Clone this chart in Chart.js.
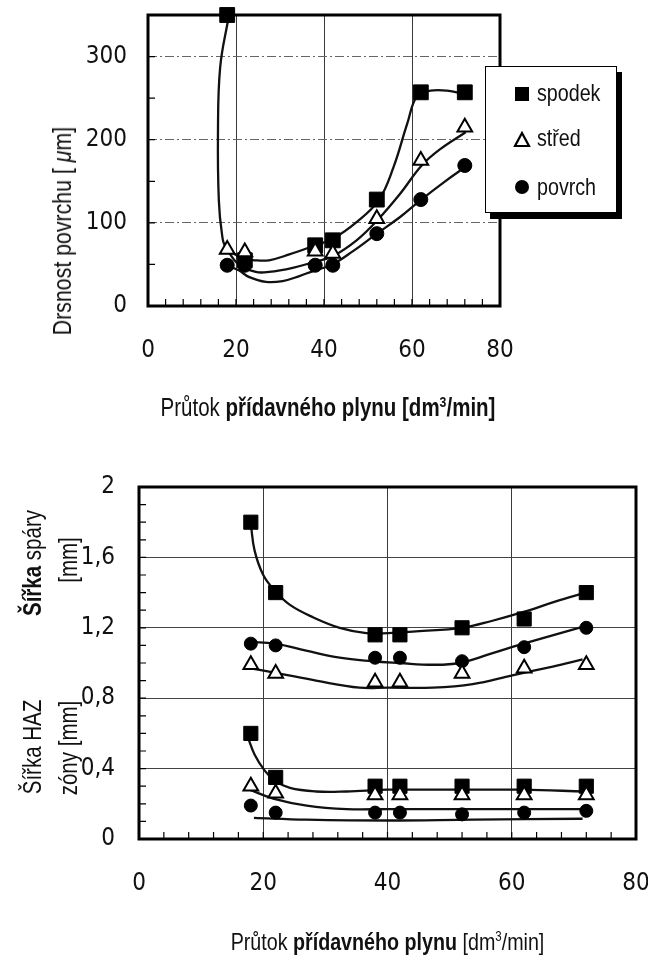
<!DOCTYPE html>
<html>
<head>
<meta charset="utf-8">
<script src="https://cdn.jsdelivr.net/npm/chart.js@4"></script>
<style>
  body { margin: 0; background: #fff; }
  #wrap { position: relative; width: 648px; height: 956px; overflow: hidden;
          font-family: "Liberation Sans", Arial, sans-serif; color: #111; }
  canvas { position: absolute; left: 0; }
  .lbl { position: absolute; white-space: nowrap; text-align: center; transform: scaleX(0.82); }
  .rot { transform: rotate(-90deg) scaleX(0.82); }
  b { font-weight: bold; }
  #legend { position: absolute; left: 485px; top: 66px; width: 130px; height: 145px;
            border: 1px solid #000; background: #fff; box-shadow: 5px 6px 0 #000; }
  #legend div { position: absolute; left: 51px; font-size: 24px; line-height: 24px;
                transform: scaleX(0.82); transform-origin: 0 50%; }
  #legend .mk { position: absolute; }
</style>
</head>
<body>
<div id="wrap">
  <canvas id="topChart" width="648" height="440" style="top:0"></canvas>
  <canvas id="botChart" width="648" height="516" style="top:440px"></canvas>

  <!-- popisky grafu nahore -->
  <div class="lbl rot" style="left:-78px; top:216px; width:280px; height:30px; line-height:30px; font-size:26px;">Drsnost povrchu [ <i>μ</i>m]</div>
  <div class="lbl" style="left:102px; top:393px; width:452px; font-size:25px;">Průtok <b>přídavného plynu [dm<sup style="font-size:15px">3</sup>/min]</b></div>

  <div id="legend">
    <span class="mk" style="left:29px; top:20px; width:14px; height:14px; background:#000;"></span>
    <div style="top:14px;">spodek</div>
    <svg class="mk" style="left:27px; top:64px;" width="18" height="17"><polygon points="9,2 16,15 2,15" fill="#fff" stroke="#000" stroke-width="2.2"/></svg>
    <div style="top:59px;">střed</div>
    <span class="mk" style="left:29px; top:113px; width:14px; height:14px; border-radius:50%; background:#000;"></span>
    <div style="top:108px;">povrch</div>
  </div>

  <!-- popisky grafu dole -->
  <div class="lbl rot" style="left:-43px; top:549px; width:150px; height:28px; line-height:28px; font-size:25px;"><b>Šířka</b> spáry</div>
  <div class="lbl rot" style="left:18px; top:546px; width:100px; height:28px; line-height:28px; font-size:25px;">[mm]</div>
  <div class="lbl rot" style="left:-43px; top:733px; width:150px; height:28px; line-height:28px; font-size:25px;">Šířka HAZ</div>
  <div class="lbl rot" style="left:-7px; top:734px; width:150px; height:28px; line-height:28px; font-size:25px;">zóny [mm]</div>
  <div class="lbl" style="left:139px; top:928px; width:497px; font-size:24px;">Průtok <b>přídavného plynu</b> [dm<sup style="font-size:14px">3</sup>/min]</div>
</div>

<script>
// ---- horni graf: drsnost povrchu ----
const xTop = [18, 22, 38, 42, 52, 62, 72];
const spodekTop = [350, 55, 73, 79, 128, 257, 257];
const stredTop = [68, 65, 66, 63, 105, 175, 215];
const povrchTop = [49, 49, 49, 49, 87, 128, 169];

// prolozene krivky
const spodekTopCurveX = [18.3, 16.4, 15.9, 16.1, 16.8, 17.7, 21.4, 24.5, 27.5, 32.1, 37.5, 42, 47.4, 52.4, 55.8, 58.9, 61.2, 64.2, 68, 71.9];
const spodekTopCurveY = [347, 287, 207, 127, 87, 71, 58, 55, 55, 62, 72, 81, 101, 127, 167, 219, 253, 259, 259, 255];
const stredTopCurveX = [17.6, 20.6, 24.5, 27.5, 32.9, 37.8, 42, 47.4, 52.1, 57.3, 62.2, 66.5, 72.2];
const stredTopCurveY = [71, 50, 41, 41, 46, 53, 60, 79, 103, 135, 169, 189, 209];
const povrchTopCurveX = [17.4, 20.6, 22.9, 26.8, 30.6, 34.4, 37.5, 41.9, 46.6, 52, 57.3, 61.9, 67.3, 72.6];
const povrchTopCurveY = [49, 43, 35, 29, 30, 36, 42, 50, 66, 87, 107, 127, 149, 169];

// ---- dolni graf: sirka spary a HAZ ----
const xBot = [18, 22, 38, 42, 52, 62, 72];
const sparaSpodek = [1.80, 1.40, 1.16, 1.16, 1.20, 1.25, 1.40];
const sparaPovrch = [1.11, 1.10, 1.03, 1.03, 1.01, 1.09, 1.20];
const sparaStred = [0.99, 0.94, 0.89, 0.89, 0.94, 0.97, 0.99];
const hazSpodek = [0.60, 0.35, 0.30, 0.30, 0.30, 0.30, 0.30];
const hazStred = [0.30, 0.26, 0.25, 0.25, 0.25, 0.25, 0.25];
const hazPovrch = [0.19, 0.15, 0.15, 0.15, 0.14, 0.15, 0.16];

const sparaSpodekCurveX = [18.0, 18.6, 20.0, 21.9, 24.3, 28.0, 32.3, 36.6, 40.1, 44.6, 52.0, 56.9, 61.9, 67.1, 71.8];
const sparaSpodekCurveY = [1.79, 1.64, 1.50, 1.41, 1.33, 1.26, 1.20, 1.17, 1.17, 1.18, 1.20, 1.24, 1.29, 1.35, 1.40];
const sparaPovrchCurveX = [17.8, 21.9, 26.9, 32.3, 37.6, 41.9, 47.3, 51.6, 56.4, 61.9, 71.8];
const sparaPovrchCurveY = [1.12, 1.11, 1.07, 1.03, 1.01, 1.00, 0.99, 1.00, 1.05, 1.11, 1.21];
const sparaStredCurveX = [18.0, 22.6, 28.5, 35.5, 40.1, 47.3, 53.7, 60.1, 66.6, 71.4];
const sparaStredCurveY = [0.97, 0.94, 0.90, 0.86, 0.86, 0.86, 0.88, 0.93, 0.98, 1.02];
const hazSpodekCurveX = [17.5, 18.6, 20.2, 21.9, 24.3, 28.5, 33.4, 40.1, 51.0, 61.7, 71.8];
const hazSpodekCurveY = [0.58, 0.48, 0.39, 0.33, 0.29, 0.27, 0.27, 0.28, 0.28, 0.28, 0.27];
const hazStredCurveX = [17.8, 21.6, 27.0, 33.4, 40.1, 53.7, 71.8];
const hazStredCurveY = [0.28, 0.23, 0.19, 0.17, 0.17, 0.17, 0.17];
const hazPovrchCurveX = [18.5, 26.9, 40.1, 53.7, 71.4];
const hazPovrchCurveY = [0.12, 0.11, 0.105, 0.11, 0.115];

const FONT = '"DejaVu Sans Condensed", "Liberation Sans", sans-serif';

function pts(xs, ys) { // spoji x a y do bodu
    return xs.map((x, i) => ({ x: x, y: ys[i] }));
}

function curve(xs, ys) {
    return { data: pts(xs, ys), showLine: true, pointRadius: 0, borderColor: '#111', borderWidth: 2.3, tension: 0.4, clip: false };
}

function markers(xs, ys, style, r) {
    const open = style === 'triangle';
    return {
        data: pts(xs, ys), showLine: false, pointStyle: style, pointRadius: r, pointHoverRadius: r,
        pointBackgroundColor: open ? '#fff' : '#000', pointBorderColor: '#000', pointBorderWidth: open ? 2 : 1, clip: false
    };
}

// ramecek kolem grafu a vnitrni carky na osach
const framePlugin = {
    id: 'frame',
    beforeDatasetsDraw(chart, args, opts) {
        const { ctx, chartArea: a, scales } = chart;
        ctx.save();
        ctx.strokeStyle = '#000';
        ctx.lineWidth = 1.2;
        ctx.beginPath();
        scales.x.ticks.forEach(t => {
            const px = scales.x.getPixelForValue(t.value);
            ctx.moveTo(px, a.bottom); ctx.lineTo(px, a.bottom - 7);
        });
        scales.y.ticks.forEach(t => {
            const py = scales.y.getPixelForValue(t.value);
            ctx.moveTo(a.left, py); ctx.lineTo(a.left + 7, py);
        });
        ctx.stroke();
        ctx.lineWidth = opts.width || 3;
        ctx.strokeRect(a.left, a.top, a.right - a.left, a.bottom - a.top);
        ctx.restore();
    }
};

function baseOptions(cfg) {
    return {
        responsive: false,
        animation: false,
        events: [],
        layout: { padding: cfg.padding, autoPadding: false },
        plugins: { legend: { display: false }, tooltip: { enabled: false }, frame: { width: 3 } },
        scales: {
            x: {
                type: 'linear', min: 0, max: 80,
                afterFit: s => { s.height = cfg.xHeight; s.paddingLeft = 0; s.paddingRight = 0; },
                ticks: {
                    stepSize: 4, autoSkip: false, maxRotation: 0, padding: cfg.xPad, color: '#111',
                    font: { family: FONT, size: 24 },
                    callback: v => (v % 20 === 0 ? String(v) : '')
                },
                grid: {
                    drawTicks: false, lineWidth: 1,
                    color: c => (c.tick && c.tick.value % 20 === 0 && c.tick.value > 0 && c.tick.value < 80) ? '#3a3a3a' : 'rgba(0,0,0,0)'
                },
                border: { display: false }
            },
            y: {
                min: cfg.yMin, max: cfg.yMax,
                afterFit: s => { s.width = cfg.yWidth; s.paddingTop = 0; s.paddingBottom = 0; },
                ticks: {
                    stepSize: cfg.yStep, autoSkip: false, padding: cfg.yPad, color: '#111',
                    font: { family: FONT, size: 24 },
                    callback: cfg.yLabel
                },
                grid: {
                    drawTicks: false, lineWidth: 1,
                    color: cfg.yGridColor
                },
                border: { display: false, dash: cfg.yDash }
            }
        }
    };
}

// horni graf
new Chart(document.getElementById('topChart'), {
    type: 'scatter',
    data: {
        datasets: [
            markers(xTop, stredTop, 'triangle', 8.5),
            markers(xTop, povrchTop, 'circle', 7),
            markers(xTop, spodekTop, 'rect', 10.5),
            curve(spodekTopCurveX, spodekTopCurveY),
            curve(stredTopCurveX, stredTopCurveY),
            curve(povrchTopCurveX, povrchTopCurveY)
        ]
    },
    options: baseOptions({
        padding: { top: 15, right: 148, left: 0, bottom: 0 },
        xHeight: 134, yWidth: 148, xPad: 30, yPad: 21,
        yMin: 0, yMax: 350, yStep: 50,
        yLabel: v => (v % 100 === 0 ? String(v) : ''),
        yGridColor: c => (c.tick && c.tick.value % 100 === 0 && c.tick.value > 0) ? '#666' : 'rgba(0,0,0,0)',
        yDash: [9, 3, 2, 3]
    }),
    plugins: [framePlugin]
});

// dolni graf
new Chart(document.getElementById('botChart'), {
    type: 'scatter',
    data: {
        datasets: [
            markers(xBot, sparaStred, 'triangle', 8.5),
            markers(xBot, hazStred, 'triangle', 8.5),
            markers(xBot, sparaPovrch, 'circle', 6.5),
            markers(xBot, hazPovrch, 'circle', 6.5),
            markers(xBot, sparaSpodek, 'rect', 10),
            markers(xBot, hazSpodek, 'rect', 10),
            curve(sparaSpodekCurveX, sparaSpodekCurveY),
            curve(sparaPovrchCurveX, sparaPovrchCurveY),
            curve(sparaStredCurveX, sparaStredCurveY),
            curve(hazSpodekCurveX, hazSpodekCurveY),
            curve(hazStredCurveX, hazStredCurveY),
            curve(hazPovrchCurveX, hazPovrchCurveY)
        ]
    },
    options: baseOptions({
        padding: { top: 47, right: 12, left: 0, bottom: 0 },
        xHeight: 117, yWidth: 139, xPad: 30, yPad: 24,
        yMin: 0, yMax: 2, yStep: 0.1,
        yLabel: v => {
            const k = Math.round(v * 10);
            return k % 4 === 0 ? (k === 0 ? '0' : k === 20 ? '2' : (k / 10).toFixed(1).replace('.', ',')) : '';
        },
        yGridColor: c => {
            if (!c.tick) return 'rgba(0,0,0,0)';
            const k = Math.round(c.tick.value * 10);
            return (k % 4 === 0 && k > 0 && k < 20) ? '#444' : 'rgba(0,0,0,0)';
        },
        yDash: []
    }),
    plugins: [framePlugin]
});
</script>
</body>
</html>
